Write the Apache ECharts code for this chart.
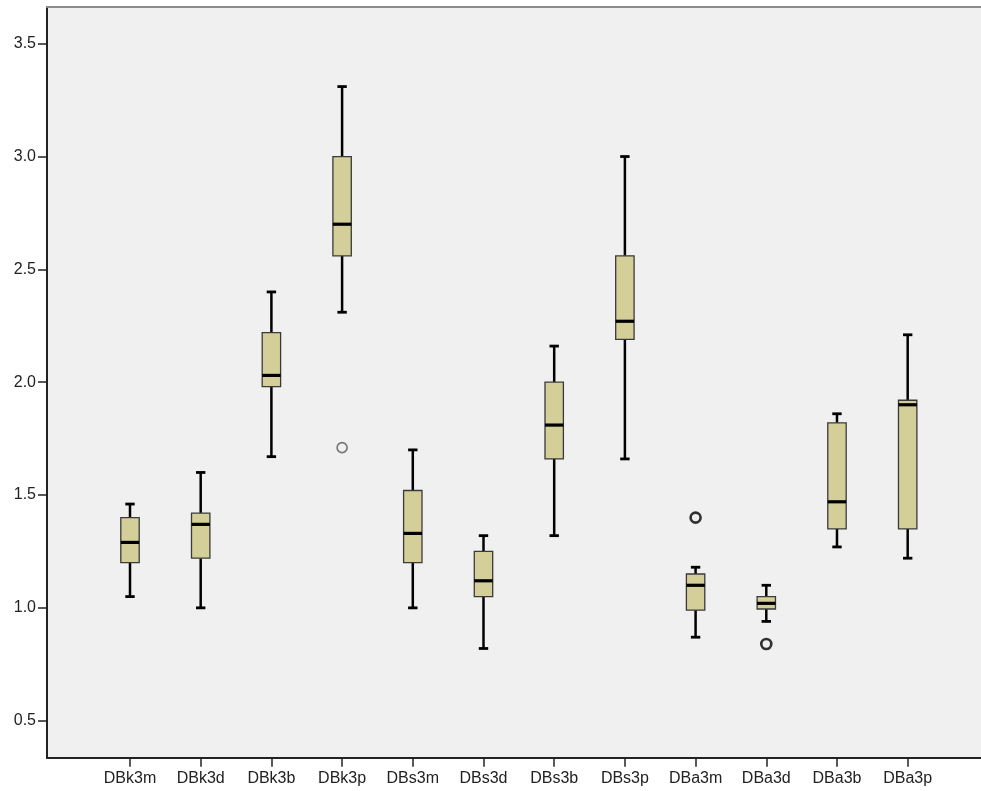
<!DOCTYPE html>
<html><head><meta charset="utf-8">
<script src="https://cdn.jsdelivr.net/npm/echarts@6/dist/echarts.min.js"></script>
<style>html,body{margin:0;padding:0;background:#fff}#c{width:981px;height:791px}</style>
</head><body><div id="c"></div>
<script>
const categories = ['DBk3m','DBk3d','DBk3b','DBk3p','DBs3m','DBs3d','DBs3b','DBs3p','DBa3m','DBa3d','DBa3b','DBa3p'];
const whiskerLow  = [1.05, 1.00, 1.67, 2.31, 1.00, 0.82, 1.32, 1.66, 0.87, 0.94, 1.27, 1.22];
const quartile1   = [1.20, 1.22, 1.98, 2.56, 1.20, 1.05, 1.66, 2.19, 0.99, 0.995, 1.35, 1.35];
const medians     = [1.29, 1.37, 2.03, 2.70, 1.33, 1.12, 1.81, 2.27, 1.10, 1.02, 1.47, 1.90];
const quartile3   = [1.40, 1.42, 2.22, 3.00, 1.52, 1.25, 2.00, 2.56, 1.15, 1.05, 1.82, 1.92];
const whiskerHigh = [1.46, 1.60, 2.40, 3.31, 1.70, 1.32, 2.16, 3.00, 1.18, 1.10, 1.86, 2.21];
const outlierCategory = [3, 8, 9];
const outlierValue    = [1.71, 1.40, 0.84];
const yTickValues = [0.5, 1.0, 1.5, 2.0, 2.5, 3.0, 3.5];

const catIndex = categories.map((c, i) => i);
const boxData = categories.map((c, i) => [i, whiskerLow[i], quartile1[i], medians[i], quartile3[i], whiskerHigh[i]]);
const outlierData = outlierCategory.map((c, k) => ({
  value: [c, outlierValue[k]],
  itemStyle: k === 0 ? {borderColor: '#555', borderWidth: 1.6} : {borderColor: '#000', borderWidth: 2.6}
}));

const FONT = "'Liberation Sans', Arial, sans-serif";
const X_MIN = -1.174, X_MAX = 12.037;
const chart = echarts.init(document.getElementById('c'), null, {renderer: 'canvas'});
chart.setOption({
  animation: false,
  backgroundColor: '#ffffff',
  grid: {left: 47, top: 7, right: 0, bottom: 33.3, show: true,
         backgroundColor: '#f0f0f0', borderWidth: 0},
  xAxis: [{
    type: 'value', min: X_MIN, max: X_MAX,
    splitLine: {show: false},
    axisLine: {onZero: false, lineStyle: {color: '#222', width: 2}},
    axisTick: {show: true, customValues: catIndex, length: 9, lineStyle: {color: '#222', width: 1.5}},
    axisLabel: {customValues: catIndex, formatter: v => categories[Math.round(v)] || '',
                fontSize: 16, fontFamily: FONT, color: '#222', margin: 13}
  }, {
    type: 'value', position: 'top', min: X_MIN, max: X_MAX,
    splitLine: {show: false},
    axisLine: {show: true, onZero: false, lineStyle: {color: '#8c8c8c', width: 2}},
    axisTick: {show: false}, axisLabel: {show: false}
  }],
  yAxis: {
    type: 'value', min: 0.336, max: 3.6626,
    splitLine: {show: false},
    axisLine: {show: true, onZero: false, lineStyle: {color: '#222', width: 2}},
    axisTick: {show: true, customValues: yTickValues, length: 9, lineStyle: {color: '#222', width: 1.5}},
    axisLabel: {customValues: yTickValues, formatter: v => v.toFixed(1),
                fontSize: 16, fontFamily: FONT, color: '#222', margin: 11}
  },
  series: [
    {
      type: 'custom',
      data: boxData,
      encode: {x: 0, y: [1, 2, 3, 4, 5]},
      clip: false,
      renderItem: function (params, api) {
        const i = api.value(0);
        const lo = api.coord([i, api.value(1)]);
        const q1 = api.coord([i, api.value(2)]);
        const md = api.coord([i, api.value(3)]);
        const q3 = api.coord([i, api.value(4)]);
        const hi = api.coord([i, api.value(5)]);
        const x = lo[0];
        const hw = 9.2, cw = 4.7;
        const wStyle = {stroke: '#000', lineWidth: 2.5};
        const cStyle = {stroke: '#000', lineWidth: 2.8};
        return {
          type: 'group',
          children: [
            {type: 'line', shape: {x1: x, y1: hi[1], x2: x, y2: q3[1]}, style: wStyle},
            {type: 'line', shape: {x1: x, y1: q1[1], x2: x, y2: lo[1]}, style: wStyle},
            {type: 'line', shape: {x1: x - cw, y1: hi[1], x2: x + cw, y2: hi[1]}, style: cStyle},
            {type: 'line', shape: {x1: x - cw, y1: lo[1], x2: x + cw, y2: lo[1]}, style: cStyle},
            {type: 'rect', shape: {x: x - hw, y: q3[1], width: 2 * hw, height: q1[1] - q3[1]},
             style: {fill: '#d4cf98', stroke: '#3a3a3a', lineWidth: 1.3}},
            {type: 'line', shape: {x1: x - hw, y1: md[1], x2: x + hw, y2: md[1]},
             style: {stroke: '#000', lineWidth: 3.2}}
          ]
        };
      }
    },
    {
      type: 'scatter',
      data: outlierData,
      symbol: 'circle',
      symbolSize: 10,
      itemStyle: {color: 'rgba(0,0,0,0)'},
      z: 3
    }
  ]
});
</script>
</body></html>
